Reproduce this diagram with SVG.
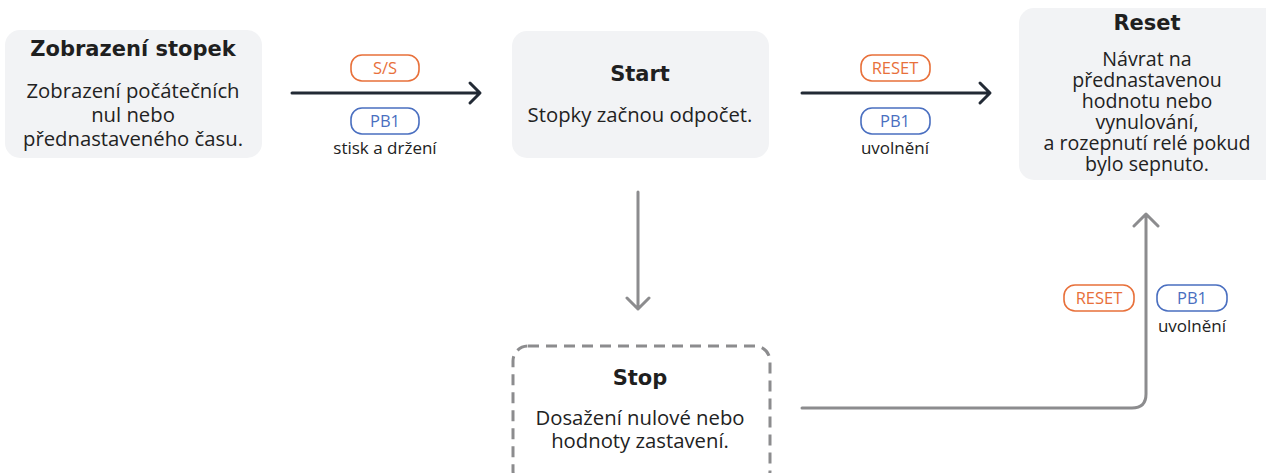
<svg xmlns="http://www.w3.org/2000/svg" width="1266" height="473" viewBox="0 0 1266 473">
<style>
.box{fill:#f2f3f5;}
.dash{fill:none;stroke:#8c8c8e;stroke-width:3;stroke-dasharray:11 7;}
.title{font-family:"DejaVu Sans",Inter,sans-serif;font-weight:700;font-size:21px;fill:#1f1f1f;text-anchor:middle;}
.body{font-family:"Open Sans","Noto Sans",sans-serif;font-size:20.3px;fill:#222;text-anchor:middle;}
.rbody{font-family:"Open Sans","Noto Sans",sans-serif;font-size:19.6px;fill:#222;text-anchor:middle;}
.pillO{fill:#fff;stroke:#e8703a;stroke-width:1.6;}
.pillB{fill:#fff;stroke:#4a6fc0;stroke-width:1.6;}
.tO{font-family:"Open Sans",sans-serif;font-size:16.5px;fill:#e8703a;text-anchor:middle;}
.tB{font-family:"Open Sans",sans-serif;font-size:16.5px;fill:#4a6fc0;text-anchor:middle;}
.note{font-family:"Open Sans",sans-serif;font-size:17px;fill:#222;text-anchor:middle;}
.dark{fill:none;stroke:#222a35;stroke-width:3;stroke-linecap:round;stroke-linejoin:round;}
.gray{fill:none;stroke:#8c8c8e;stroke-width:3;stroke-linecap:round;stroke-linejoin:round;}
</style>
<rect width="1266" height="473" fill="#ffffff"/>
<g id="node-zobrazeni">
<rect class="box" x="5" y="30" width="257" height="128" rx="15"/>
<text class="title" x="133" y="56">Zobrazení stopek</text>
<text class="body" x="133" y="98">Zobrazení počátečních</text>
<text class="body" x="133" y="122">nul nebo</text>
<text class="body" x="133" y="146">přednastaveného času.</text>
</g>
<g id="node-start">
<rect class="box" x="512" y="31" width="257" height="127" rx="15"/>
<text class="title" x="640" y="81">Start</text>
<text class="body" x="640" y="122">Stopky začnou odpočet.</text>
</g>
<g id="node-reset">
<rect class="box" x="1019" y="8" width="262" height="172" rx="15"/>
<text class="title" x="1147" y="30">Reset</text>
<text class="rbody" x="1147" y="66">Návrat na</text>
<text class="rbody" x="1147" y="87">přednastavenou</text>
<text class="rbody" x="1147" y="108">hodnotu nebo</text>
<text class="rbody" x="1147" y="129">vynulování,</text>
<text class="rbody" x="1147" y="150">a rozepnutí relé pokud</text>
<text class="rbody" x="1147" y="171">bylo sepnuto.</text>
</g>
<g id="node-stop">
<rect class="dash" x="513" y="346" width="257" height="140" rx="15"/>
<text class="title" x="640" y="385">Stop</text>
<text class="body" x="640" y="425">Dosažení nulové nebo</text>
<text class="body" x="640" y="448">hodnoty zastavení.</text>
</g>
<g id="connectors">
<path class="dark" d="M292 93 H479 M470 83 L480 93 L470 103"/>
<rect class="pillO" x="351" y="55" width="68" height="26" rx="11"/>
<text class="tO" x="385" y="74">S/S</text>
<rect class="pillB" x="351" y="108" width="68" height="26" rx="11"/>
<text class="tB" x="385" y="127">PB1</text>
<text class="note" x="385" y="154">stisk a držení</text>

<path class="dark" d="M802 93 H989 M980 83 L990 93 L980 103"/>
<rect class="pillO" x="861" y="55" width="69" height="26" rx="11"/>
<text class="tO" x="895" y="74">RESET</text>
<rect class="pillB" x="861" y="108" width="69" height="26" rx="11"/>
<text class="tB" x="895" y="127">PB1</text>
<text class="note" x="895" y="154">uvolnění</text>

<path class="gray" d="M638 192 V309 M627 298 L638 309 L649 298"/>

<path class="gray" d="M802 408 H1132 Q1146 408 1146 394 V214 M1134 226 L1146 214 L1158 226"/>
<rect class="pillO" x="1064" y="285" width="70" height="26" rx="11"/>
<text class="tO" x="1099" y="304">RESET</text>
<rect class="pillB" x="1157" y="285" width="70" height="26" rx="11"/>
<text class="tB" x="1192" y="304">PB1</text>
<text class="note" x="1192" y="332">uvolnění</text>
</g>
</svg>
